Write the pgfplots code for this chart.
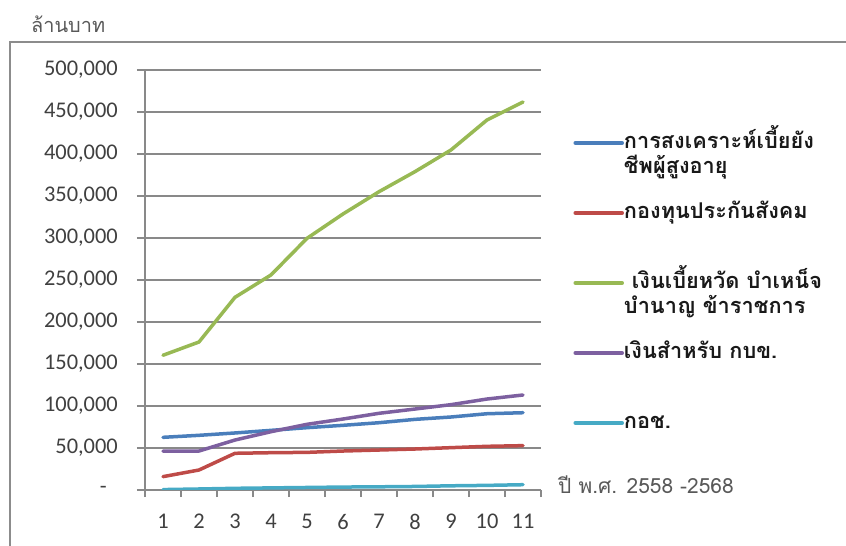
\documentclass[border=0pt]{standalone}
\usepackage{pgfplots}
\pgfplotsset{compat=1.18}
\usepackage{pgfplotstable}
\usepackage{fontspec}
\setmainfont{Carlito}
\newfontfamily\thaifont[Script=Thai]{Loma}

\definecolor{sBlue}{HTML}{4A7EBB}
\definecolor{sRed}{HTML}{BE4B48}
\definecolor{sGreen}{HTML}{98B954}
\definecolor{sPurple}{HTML}{7D60A0}
\definecolor{sCyan}{HTML}{46AAC5}
\definecolor{gridGray}{HTML}{898989}
\definecolor{frameGray}{HTML}{8C8C8C}
\definecolor{tickText}{HTML}{404040}
\definecolor{titleText}{HTML}{595959}

% Budget by year (million baht), years 1-11 = B.E. 2558-2568
\pgfplotstableread{
year elderly socsec civil gpf nsf
1  62700 15900 160400 46400  500
2  65100 23800 176200 46400 1200
3  67900 43700 229400 59500 2000
4  71000 44400 256000 69400 2500
5  74200 44800 299600 78200 3000
6  77000 46400 328600 84500 3500
7  80100 47600 355100 91300 3800
8  84100 48800 379000 96400 4200
9  86900 50400 404800 101600 5000
10 90800 52000 440500 108300 5500
11 92000 52800 461900 113100 6300
}\budget

\begin{document}
\begin{tikzpicture}
\useasboundingbox (0bp,0bp) rectangle (846bp,546bp);
% outer chart frame
\draw[color=frameGray, line width=2bp] (10bp,0bp) -- (10bp,504bp) -- (846bp,504bp);
\node[anchor=base west, inner sep=0pt, text=titleText,
      font=\thaifont\fontsize{20}{24}\selectfont] at (31bp,513bp) {ล้านบาท};
\node[anchor=base west, inner sep=0pt, text=titleText,
      font=\thaifont\fontsize{21}{24}\selectfont] at (558bp,52bp) {ปี พ.ศ. 2558 -2568};

\begin{axis}[
  at={(145bp,56bp)}, anchor=south west,
  scale only axis, width=396bp, height=420bp,
  xmin=0.5, xmax=11.5, ymin=0, ymax=500000,
  axis lines*=left,
  axis line style={color=gridGray, line width=1.2bp},
  tick align=outside,
  xtick={1,...,11},
  major x tick style={draw=none},
  minor xtick={0.5,1.5,...,11.5},
  minor x tick style={color=gridGray, line width=1.2bp},
  minor tick length=7bp,
  ytick={0,50000,...,500000},
  major y tick style={color=gridGray, line width=1.2bp},
  major tick length=8bp,
  scaled y ticks=false,
  /pgf/number format/assume math mode=true,
  yticklabels={-\kern11bp,{50,000},{100,000},{150,000},{200,000},{250,000},{300,000},{350,000},{400,000},{450,000},{500,000}},
  yticklabel style={anchor=east, inner sep=0pt, xshift=-19bp},
  xticklabel style={anchor=north, inner sep=0pt, yshift=-16bp},
  ticklabel style={font=\fontsize{22.5}{26}\selectfont, text=tickText},
  ymajorgrids,
  y grid style={color=gridGray, line width=1.2bp},
  every axis plot/.append style={line width=3.5bp, line join=round, line cap=round},
  legend cell align=left,
  legend image code/.code={\draw[#1, line width=3.5bp, line cap=round] (0bp,0bp) -- (47bp,0bp);},
  legend style={draw=none, fill=none, inner sep=0pt, outer sep=0pt,
    at={(axis description cs:1.082,0.85)}, anchor=north west,
    row sep=50bp,
    nodes={inner sep=0pt, text height=15bp, text depth=5bp,
           font=\thaifont\bfseries\fontsize{21.8}{26}\selectfont, text=black!90},
    /tikz/every even column/.append style={column sep=4bp}},
]
\addplot[sBlue] table[x=year, y=elderly] {\budget};
\addlegendentry{\vtop{\hbox{การสงเคราะห์เบี้ยยัง}\hbox{ชีพผู้สูงอายุ}}}
\addplot[sRed] table[x=year, y=socsec] {\budget};
\addlegendentry{กองทุนประกันสังคม}
\addplot[sGreen] table[x=year, y=civil] {\budget};
\addlegendentry{\vtop{\hbox{\hspace*{8bp}เงินเบี้ยหวัด บำเหน็จ}\hbox{บำนาญ ข้าราชการ}}}
\addplot[sPurple] table[x=year, y=gpf] {\budget};
\addlegendentry{เงินสำหรับ กบข.}
\addplot[sCyan] table[x=year, y=nsf] {\budget};
\addlegendentry{กอช.}
\end{axis}
\end{tikzpicture}
\end{document}
